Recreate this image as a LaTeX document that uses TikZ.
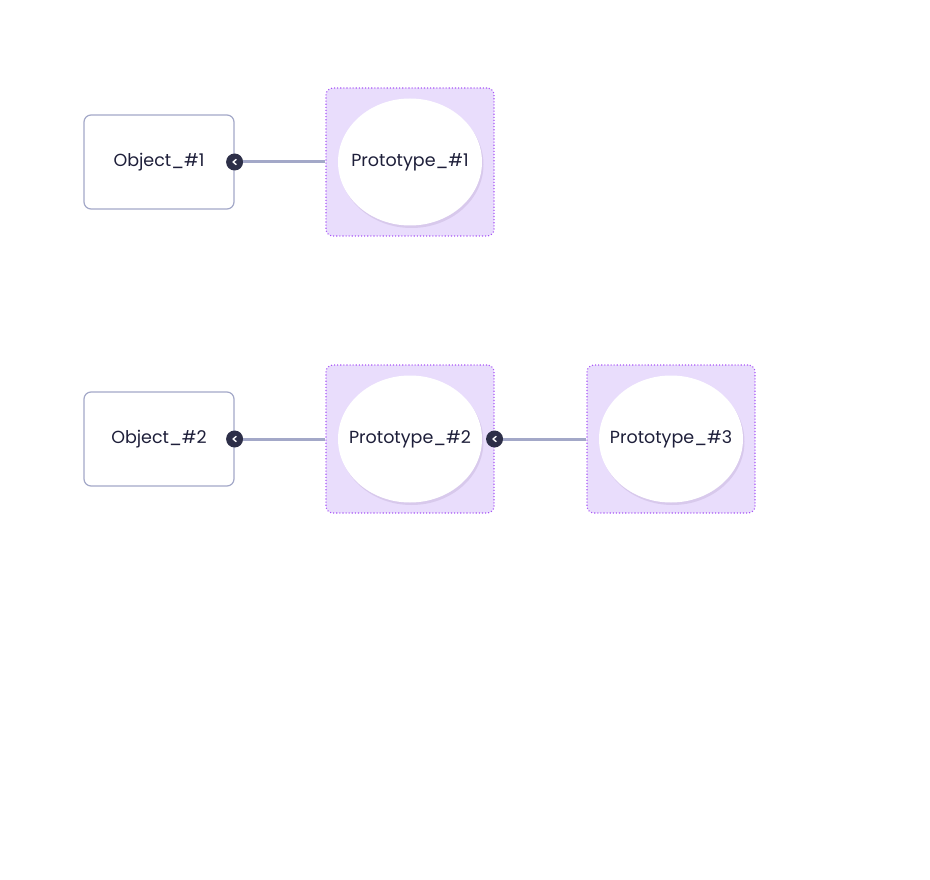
\documentclass[tikz,border=0pt]{standalone}
\usepackage{fontspec}
\setmainfont{Poppins}
\usetikzlibrary{shapes.geometric,shadows}
\definecolor{objline}{HTML}{A3A8C8}
\definecolor{protofill}{HTML}{E9DDFC}
\definecolor{protoline}{HTML}{A855F7}
\definecolor{inktext}{HTML}{1E1F3A}
\definecolor{knobfill}{HTML}{2D2F48}
\tikzstyle{object}=[draw=objline, line width=1.2pt, rounded corners=7pt, fill=white, minimum width=150pt, minimum height=94pt, text=inktext, font=\fontsize{17.5}{20}\selectfont]
\tikzstyle{protobox}=[draw=protoline, dotted, line width=1.1pt, rounded corners=7pt, fill=protofill, minimum width=168pt, minimum height=148pt]
\tikzstyle{proto}=[ellipse, fill=white, minimum width=144pt, minimum height=127pt, inner xsep=-20pt, inner ysep=0pt, text=inktext, font=\fontsize{17.5}{20}\selectfont, drop shadow={shadow xshift=1.5pt, shadow yshift=-2.5pt, opacity=0.10, fill=black!60!protoline}]
\tikzstyle{link}=[draw=objline, line width=3pt]
\tikzstyle{knob}=[circle, fill=knobfill, minimum size=17pt, inner sep=0pt]
\tikzstyle{chev}=[draw=white, line width=1.4pt, line cap=round, line join=round]

\begin{document}
\begin{tikzpicture}[x=1pt, y=-1pt]
                \useasboundingbox (0, 0) rectangle (930, 880);
                % first row
                \node[object]   (o1)  at (159, 162) {Object\_\#1};
                \node[protobox] (b1)  at (410, 162) {};
                \node[proto]    (p1)  at (410, 162) {Prototype\_\#1};
                \node[knob]     (k1)  at (o1.east) {};
                \draw[link] (b1.west) -- (k1);
                \draw[chev] ([xshift=1.5pt, yshift=2.5pt]k1.center) -- ([xshift=-1.5pt]k1.center) -- ([xshift=1.5pt, yshift=-2.5pt]k1.center);
                % second row
                \node[object]   (o2)  at (159, 439) {Object\_\#2};
                \node[protobox] (b2)  at (410, 439) {};
                \node[proto]    (p2)  at (410, 439) {Prototype\_\#2};
                \node[protobox] (b3)  at (671, 439) {};
                \node[proto]    (p3)  at (671, 439) {Prototype\_\#3};
                \node[knob]     (k2)  at (o2.east) {};
                \node[knob]     (k3)  at (b2.east) {};
                \draw[link] (b2.west) -- (k2);
                \draw[link] (b3.west) -- (k3);
                \draw[chev] ([xshift=1.5pt, yshift=2.5pt]k2.center) -- ([xshift=-1.5pt]k2.center) -- ([xshift=1.5pt, yshift=-2.5pt]k2.center);
                \draw[chev] ([xshift=1.5pt, yshift=2.5pt]k3.center) -- ([xshift=-1.5pt]k3.center) -- ([xshift=1.5pt, yshift=-2.5pt]k3.center);
            \end{tikzpicture}
\end{document}
